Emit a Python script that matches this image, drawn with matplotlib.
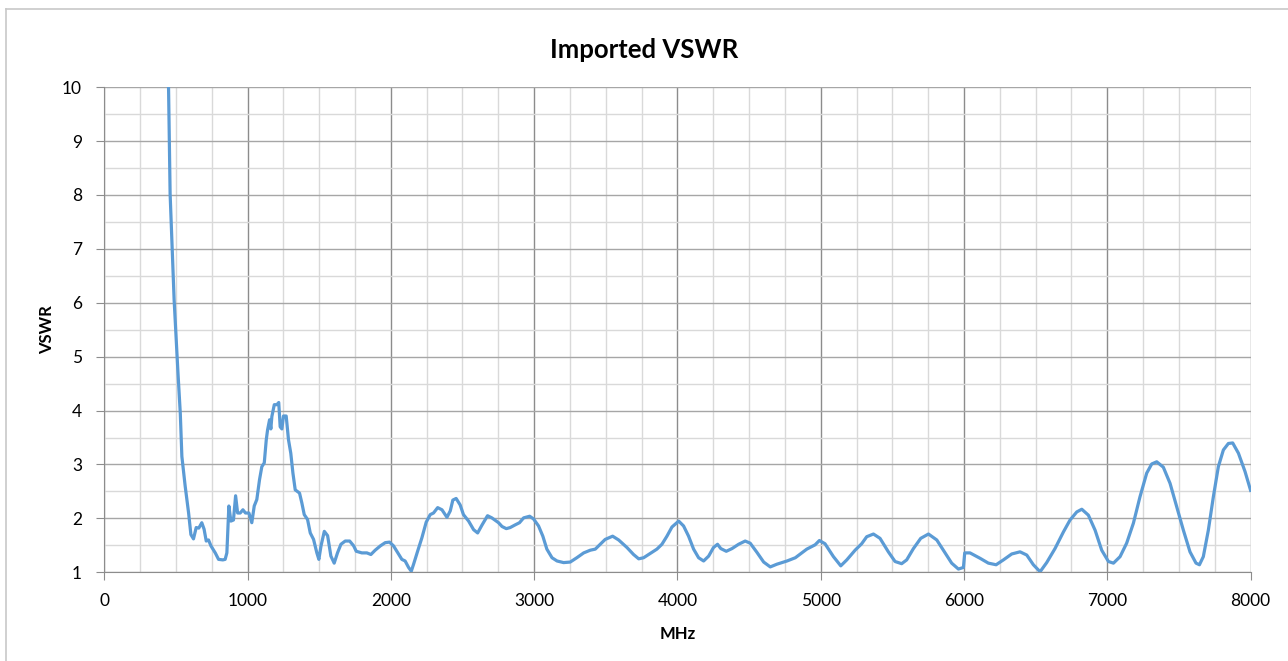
import matplotlib
matplotlib.use("Agg")
import matplotlib.pyplot as plt
from matplotlib.ticker import MultipleLocator
from matplotlib.lines import Line2D

plt.rcParams['font.family'] = ['Lato', 'DejaVu Sans']

freq_mhz = [449, 460, 488, 515, 531, 542, 565, 589, 605, 623, 642, 660, 681, 697, 712, 728, 745,
            775, 798, 828, 844, 856, 870, 884, 902, 917, 931, 949, 968, 986, 1010, 1030, 1047,
            1065, 1084, 1100, 1117, 1131, 1140, 1154, 1163, 1170, 1187, 1205, 1218, 1228, 1240,
            1251, 1270, 1286, 1302, 1317, 1333, 1363, 1379, 1396, 1419, 1438, 1461, 1484, 1498,
            1513, 1536, 1559, 1582, 1605, 1628, 1652, 1682, 1713, 1741, 1759, 1798, 1833, 1861,
            1891, 1927, 1961, 1991, 2019, 2049, 2077, 2100, 2124, 2143, 2159, 2187, 2217, 2247,
            2275, 2298, 2327, 2357, 2392, 2415, 2433, 2456, 2484, 2507, 2543, 2578, 2606, 2635,
            2675, 2705, 2752, 2776, 2806, 2833, 2868, 2898, 2927, 2969, 2996, 3031, 3061, 3089,
            3125, 3160, 3206, 3252, 3298, 3346, 3392, 3427, 3461, 3496, 3548, 3590, 3648, 3694,
            3730, 3764, 3811, 3857, 3892, 3927, 3962, 4009, 4043, 4078, 4113, 4148, 4183, 4218,
            4252, 4280, 4303, 4341, 4381, 4427, 4473, 4508, 4555, 4602, 4648, 4694, 4765, 4823,
            4858, 4903, 4961, 4991, 5030, 5089, 5140, 5182, 5240, 5286, 5321, 5368, 5414, 5472,
            5519, 5565, 5600, 5647, 5698, 5752, 5810, 5856, 5914, 5961, 5996, 6005, 6042, 6112,
            6170, 6224, 6275, 6333, 6391, 6438, 6484, 6531, 6577, 6635, 6694, 6740, 6787, 6822,
            6868, 6915, 6961, 7008, 7043, 7089, 7135, 7182, 7228, 7275, 7310, 7345, 7391, 7438,
            7484, 7531, 7577, 7619, 7643, 7670, 7705, 7740, 7775, 7810, 7845, 7875, 7915, 7961,
            8000]

vswr = [10.0, 8.02, 6.05, 4.69, 3.95, 3.15, 2.60, 2.10, 1.70, 1.62, 1.83, 1.82, 1.92, 1.80, 1.58,
        1.60, 1.49, 1.36, 1.24, 1.23, 1.24, 1.36, 2.23, 1.95, 1.97, 2.42, 2.10, 2.10, 2.16, 2.10,
        2.10, 1.92, 2.23, 2.35, 2.72, 2.96, 3.03, 3.46, 3.64, 3.83, 3.66, 3.89, 4.11, 4.11, 4.15,
        3.70, 3.66, 3.90, 3.90, 3.46, 3.21, 2.84, 2.53, 2.47, 2.29, 2.07, 1.98, 1.73, 1.61, 1.36,
        1.24, 1.49, 1.76, 1.68, 1.30, 1.17, 1.36, 1.52, 1.58, 1.58, 1.49, 1.39, 1.36, 1.36, 1.33,
        1.41, 1.49, 1.55, 1.56, 1.49, 1.36, 1.24, 1.21, 1.09, 1.02, 1.15, 1.39, 1.64, 1.93, 2.07,
        2.10, 2.20, 2.16, 2.02, 2.14, 2.34, 2.37, 2.25, 2.07, 1.95, 1.79, 1.73, 1.87, 2.05, 2.01,
        1.92, 1.85, 1.81, 1.83, 1.88, 1.92, 2.01, 2.04, 1.99, 1.86, 1.67, 1.43, 1.27, 1.21, 1.18,
        1.19, 1.27, 1.36, 1.41, 1.43, 1.52, 1.61, 1.67, 1.60, 1.46, 1.33, 1.25, 1.27, 1.35, 1.43,
        1.52, 1.67, 1.84, 1.95, 1.86, 1.67, 1.43, 1.27, 1.21, 1.30, 1.46, 1.52, 1.44, 1.39, 1.44,
        1.52, 1.58, 1.54, 1.37, 1.19, 1.10, 1.15, 1.21, 1.27, 1.34, 1.43, 1.51, 1.59, 1.53, 1.29,
        1.12, 1.23, 1.41, 1.53, 1.66, 1.71, 1.63, 1.38, 1.20, 1.16, 1.23, 1.44, 1.63, 1.71, 1.60,
        1.41, 1.17, 1.06, 1.09, 1.36, 1.36, 1.26, 1.17, 1.14, 1.23, 1.34, 1.38, 1.32, 1.14, 1.01,
        1.18, 1.44, 1.75, 1.97, 2.12, 2.17, 2.06, 1.78, 1.41, 1.20, 1.17, 1.29, 1.54, 1.91, 2.40,
        2.84, 3.01, 3.05, 2.95, 2.65, 2.22, 1.78, 1.38, 1.17, 1.14, 1.29, 1.78, 2.40, 2.96, 3.27,
        3.39, 3.40, 3.21, 2.87, 2.52]

title = "Imported VSWR"
x_label = "MHz"
y_label = "VSWR"

W, H = 1288, 661
fig = plt.figure(figsize=(W / 100, H / 100), dpi=100)
fig.patch.set_facecolor("white")

# outer chart border (only top and left edges are visible in the reference)
bx, by = 5.5 / W, 1 - 9 / H
fig.add_artist(Line2D([bx, 1.0], [by, by], transform=fig.transFigure, color="#c8c8c8", linewidth=1.2))
fig.add_artist(Line2D([bx, bx], [0.0, by], transform=fig.transFigure, color="#c8c8c8", linewidth=1.2))

left, right, top, bottom = 104.2, 1250.6, 87.2, 572.3
ax = fig.add_axes([left / W, 1 - bottom / H, (right - left) / W, (bottom - top) / H])

ax.plot(freq_mhz, vswr, color="#5B9BD5", linewidth=2.3, solid_joinstyle="round", zorder=3)

ax.set_xlim(0, 8000)
ax.set_ylim(1, 10)
ax.xaxis.set_major_locator(MultipleLocator(1000))
ax.xaxis.set_minor_locator(MultipleLocator(250))
ax.yaxis.set_major_locator(MultipleLocator(1))
ax.yaxis.set_minor_locator(MultipleLocator(0.5))

ax.grid(which="major", axis="x", color="#8c8c8c", linewidth=1.0)
ax.grid(which="minor", axis="x", color="#d9d9d9", linewidth=1.0)
ax.grid(which="major", axis="y", color="#a6a6a6", linewidth=1.0)
ax.grid(which="minor", axis="y", color="#d9d9d9", linewidth=1.0)
ax.set_axisbelow(True)

for s in ["top", "right"]:
    ax.spines[s].set_visible(False)
ax.spines["left"].set_color("#8c8c8c")
ax.spines["bottom"].set_color("#8c8c8c")

ax.tick_params(axis="x", which="major", length=6, color="#8c8c8c", labelsize=12.5, pad=9,
               labelcolor="#000000")
ax.tick_params(axis="y", which="major", length=6, color="#8c8c8c", labelsize=12.5, pad=10,
               labelcolor="#000000")
ax.tick_params(which="minor", length=0)

fig.text(0.5, 1 - 50 / H, title, fontsize=18.5, fontweight="bold", ha="center", va="center")
ax.set_xlabel(x_label, fontsize=12, fontweight="bold", labelpad=12)
ax.set_ylabel(y_label, fontsize=12, fontweight="bold", labelpad=5)

fig.savefig("out.png", dpi=100)
